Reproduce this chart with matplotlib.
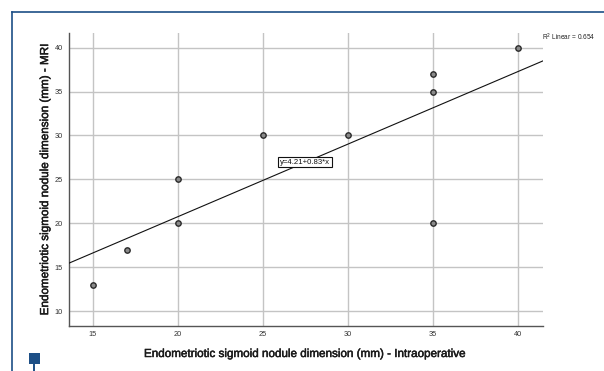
import numpy as np
import matplotlib
matplotlib.use("Agg")
import matplotlib.pyplot as plt
import matplotlib.patheffects as pe
from matplotlib.lines import Line2D
from matplotlib.patches import Rectangle

# Data
intraop = [15, 17, 20, 20, 25, 30, 35, 35, 35, 40]
mri = [13, 17, 20, 25, 30, 30, 20, 35, 37, 40]
x_ticks = [15, 20, 25, 30, 35, 40]
y_ticks = [10, 15, 20, 25, 30, 35, 40]

plt.rcParams['font.family'] = ['Liberation Sans', 'DejaVu Sans']

W, H = 604, 371
fig = plt.figure(figsize=(W / 100, H / 100), dpi=100)
fig.patch.set_facecolor('white')

ax = fig.add_axes([69 / W, 1 - 325.7 / H, (542.7 - 69) / W, (325.7 - 33) / H])
ax.set_xlim(13.6, 41.45)
ax.set_ylim(8.33, 41.67)

ax.set_xticks(x_ticks)
ax.set_yticks(y_ticks)
ax.grid(True, color='#c4c4c4', linewidth=1.0)
ax.set_axisbelow(True)
for s in ['top', 'right']:
    ax.spines[s].set_visible(False)
for s in ['left', 'bottom']:
    ax.spines[s].set_color('#555555')
    ax.spines[s].set_linewidth(1.0)
ax.tick_params(axis='both', length=0, labelsize=5.3, colors='#333333')
ax.tick_params(axis='y', pad=4.3)
ax.tick_params(axis='x', pad=4)

# regression line computed from data
xa = np.array(intraop, dtype=float)
ya = np.array(mri, dtype=float)
slope, intercept = np.polyfit(xa, ya, 1)
r2 = np.corrcoef(xa, ya)[0, 1] ** 2
xl = np.array(ax.get_xlim())
ax.plot(xl, intercept + slope * xl, color='#111111', linewidth=0.8, zorder=3)

ax.scatter(intraop, mri, s=15, facecolor='#8a8a8a', edgecolor='#2a2a2a',
           linewidth=1.0, zorder=4)

ax.text(27.5, 26.97, f"y={intercept:.2f}+{slope:.2f}*x", fontsize=5.6,
        ha='center', va='center', color='#111111', zorder=5,
        bbox=dict(boxstyle='square,pad=0.25', facecolor='white',
                  edgecolor='#111111', linewidth=0.8))

heavy = [pe.withStroke(linewidth=0.35, foreground='#1a1a1a')]
ax.set_xlabel("Endometriotic sigmoid nodule dimension (mm) - Intraoperative",
              fontsize=8.4, color='#1a1a1a')
ax.set_ylabel("Endometriotic sigmoid nodule dimension (mm) - MRI",
              fontsize=8.4, color='#1a1a1a')
ax.xaxis.label.set_path_effects(heavy)
ax.yaxis.label.set_path_effects(heavy)
ax.xaxis.set_label_coords(0.498, -0.0967)
ax.yaxis.set_label_coords(-0.0505, 0.5)
ax.xaxis.label.set_va('center')
ax.yaxis.label.set_va('center')

fig.text(541.7 / W, 1 - 37 / H, f"R$^2$ Linear = {r2:.3f}", fontsize=4.7,
         ha='left', va='center', color='#222222')

# blue frame decorations
blue = '#1d4f86'
fig.add_artist(Line2D([11.5 / W, 1.0], [1 - 12 / H, 1 - 12 / H],
                      transform=fig.transFigure, color=blue, linewidth=1.2))
fig.add_artist(Line2D([11.5 / W, 11.5 / W], [0, 1 - 12 / H],
                      transform=fig.transFigure, color=blue, linewidth=1.2))
fig.add_artist(Rectangle((29 / W, 1 - 364 / H), 11 / W, 11 / H,
                         transform=fig.transFigure, facecolor=blue,
                         edgecolor='none'))
fig.add_artist(Line2D([34 / W, 34 / W], [0, 1 - 364 / H],
                      transform=fig.transFigure, color=blue, linewidth=1.4))

fig.savefig('out.png', dpi=100, facecolor='white')
